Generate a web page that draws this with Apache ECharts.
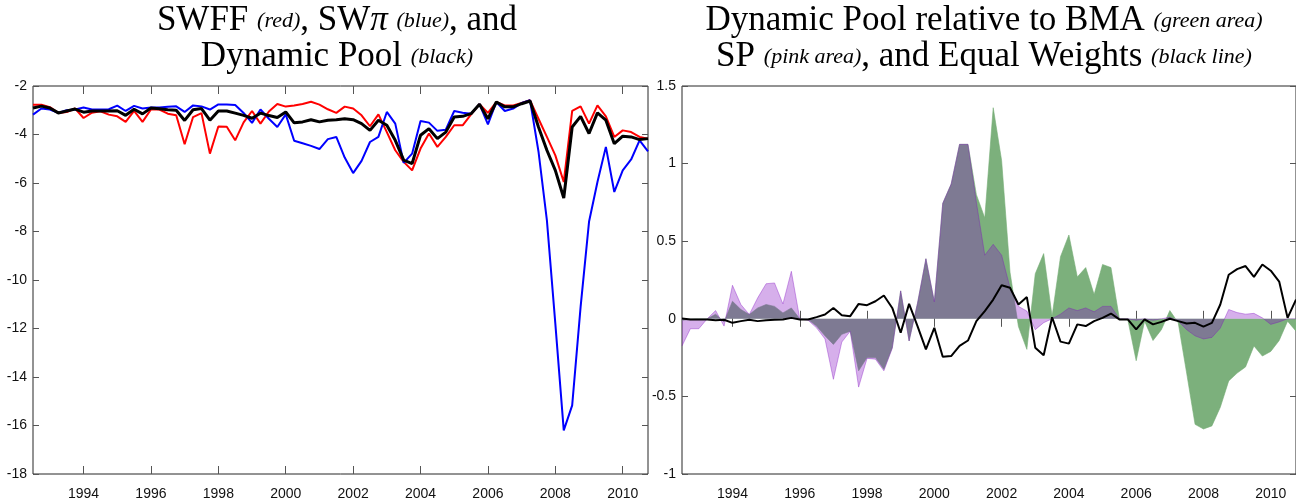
<!DOCTYPE html>
<html><head><meta charset="utf-8">
<script src="https://cdn.jsdelivr.net/npm/echarts@6/dist/echarts.min.js"></script>
<style>html,body{margin:0;padding:0;background:#fff}#c{width:1296px;height:501px}</style>
</head><body><div id="c"></div>
<script>
// quarterly dates 1992Q3 .. 2010Q4 (as decimal years)
const startYear = 1992.5;
const nQuarters = 74;
const quarters = Array.from({length: nQuarters}, (_, i) => startYear + i * 0.25);
const tickYears = [1994, 1996, 1998, 2000, 2002, 2004, 2006, 2008, 2010];

// Left panel
const swff = [-2.77,-2.77,-2.87,-3.11,-3.07,-2.93,-3.32,-3.10,-3.04,-3.18,
  -3.25,-3.48,-3.03,-3.48,-2.97,-2.97,-3.14,-3.21,-4.40,-3.28,
  -3.12,-4.79,-3.67,-3.68,-4.24,-3.50,-3.03,-3.55,-3.05,-2.74,
  -2.85,-2.80,-2.74,-2.65,-2.77,-2.96,-3.11,-2.85,-2.93,-3.21,
  -3.66,-3.17,-3.90,-4.65,-5.13,-5.48,-4.58,-3.96,-4.51,-4.10,
  -3.62,-3.62,-3.17,-2.75,-3.11,-2.66,-2.80,-2.80,-2.70,-2.59,
  -3.35,-4.10,-4.86,-5.96,-3.03,-2.84,-3.55,-2.80,-3.25,-4.10,
  -3.83,-3.90,-4.10,-4.17];
const swpi = [-3.18,-2.93,-2.97,-3.11,-3.00,-2.97,-2.89,-2.97,-2.97,-2.96,
  -2.81,-3.03,-2.82,-2.93,-2.89,-2.89,-2.86,-2.84,-3.07,-2.80,
  -2.84,-2.97,-2.76,-2.76,-2.78,-3.11,-3.52,-2.97,-3.35,-3.69,
  -3.17,-4.26,-4.36,-4.47,-4.60,-4.19,-4.10,-4.95,-5.59,-5.09,
  -4.31,-4.10,-3.07,-3.55,-5.17,-4.79,-3.44,-3.51,-3.85,-3.80,
  -3.03,-3.10,-3.14,-2.75,-3.58,-2.66,-3.03,-2.93,-2.70,-2.59,
  -4.70,-7.54,-11.80,-16.20,-15.17,-11.11,-7.60,-5.96,-4.51,-6.37,
  -5.48,-5.03,-4.24,-4.70];
const dynPool = [-2.91,-2.83,-2.91,-3.11,-3.03,-2.95,-3.08,-3.03,-3.03,-3.03,
  -3.02,-3.21,-2.96,-3.15,-2.91,-2.94,-2.98,-3.00,-3.42,-2.98,
  -2.93,-3.41,-3.03,-3.03,-3.12,-3.21,-3.33,-3.12,-3.22,-3.30,
  -3.07,-3.52,-3.48,-3.39,-3.48,-3.41,-3.39,-3.35,-3.39,-3.55,
  -3.83,-3.41,-3.62,-4.24,-5.06,-5.20,-4.03,-3.76,-4.17,-3.90,
  -3.28,-3.25,-3.14,-2.75,-3.35,-2.66,-2.86,-2.86,-2.73,-2.62,
  -3.69,-4.65,-5.48,-6.62,-3.69,-3.25,-3.96,-3.11,-3.41,-4.38,
  -4.07,-4.10,-4.21,-4.17];

// Right panel
const relBMA = [-0.01,-0.005,0,0,0.03,-0.02,0.113,0.06,0.028,0.07,
  0.092,0.08,0.038,0.07,0,-0.005,-0.047,-0.11,-0.165,-0.10,
  -0.08,-0.335,-0.25,-0.25,-0.325,-0.186,0.18,-0.143,0.10,0.387,
  0.11,0.744,0.868,1.124,1.124,0.80,0.65,1.36,1.02,0.30,
  -0.05,-0.197,0.29,0.42,0.017,0.40,0.54,0.27,0.33,0.156,
  0.35,0.33,0,-0.005,-0.27,-0.015,-0.14,-0.07,0.053,-0.026,
  -0.35,-0.68,-0.71,-0.69,-0.57,-0.40,-0.35,-0.31,-0.175,-0.24,
  -0.21,-0.14,-0.015,-0.08];
const relSP = [-0.175,-0.064,-0.064,0,0.053,-0.047,0.216,0.092,0.028,0.135,
  0.226,0.231,0.096,0.306,0,-0.01,-0.058,-0.13,-0.39,-0.15,
  -0.08,-0.44,-0.255,-0.26,-0.335,-0.19,0.18,-0.143,0.10,0.387,
  0.11,0.744,0.868,1.124,1.124,0.75,0.41,0.48,0.41,0.20,
  0.08,0.05,-0.07,-0.025,0,0.03,0.07,0.053,0.07,0.045,
  0.08,0.08,0,0,-0.01,0,-0.01,0,0.01,-0.015,
  -0.07,-0.11,-0.13,-0.12,-0.06,0.06,0.04,0.03,0.035,0.006,
  -0.036,-0.02,0,0];
const relEW = [0.002,-0.004,-0.004,-0.004,-0.01,-0.006,-0.026,-0.015,-0.006,-0.015,
  -0.01,-0.006,-0.004,0.006,-0.004,-0.004,0.011,0.028,0.07,0.023,
  0.017,0.096,0.088,0.113,0.15,0.07,-0.09,0.096,-0.047,-0.197,
  -0.058,-0.244,-0.24,-0.175,-0.14,-0.015,0.05,0.124,0.216,0.2,
  0.092,0.14,-0.186,-0.235,0.01,-0.147,-0.16,-0.036,-0.047,-0.015,
  0.006,0.034,-0.004,-0.004,-0.068,-0.004,-0.036,-0.02,0,-0.015,
  -0.03,-0.026,-0.05,-0.026,0.092,0.284,0.32,0.34,0.27,0.35,
  0.31,0.24,0.006,0.124];

const pairs = arr => arr.map((v, i) => [quarters[i], v]);

const SANS = "'Liberation Sans',Arial,sans-serif";
const SERIF = "'Liberation Serif','DejaVu Serif',serif";
const AX = '#262626';

function xAxes(grid) {
  const base = {
    type: 'value', gridIndex: grid, min: startYear, max: 2010.75,
    splitLine: {show: false}, axisLine: {show: false}
  };
  return [
    Object.assign({}, base, {
      position: 'bottom',
      axisTick: {show: true, inside: true, length: 8, customValues: tickYears, lineStyle: {color: '#555'}},
      axisLabel: {show: true, customValues: tickYears, margin: 13, color: '#111',
        fontFamily: SANS, fontSize: 14, formatter: v => String(v)}
    }),
    Object.assign({}, base, {
      position: 'top',
      axisTick: {show: true, inside: true, length: 8, customValues: tickYears, lineStyle: {color: '#555'}},
      axisLabel: {show: false}
    })
  ];
}
function yAxes(grid, min, max, interval) {
  const base = {
    type: 'value', gridIndex: grid, min: min, max: max, interval: interval,
    splitLine: {show: false}, axisLine: {show: false}
  };
  return [
    Object.assign({}, base, {
      position: 'left',
      axisTick: {show: true, inside: true, length: 6, lineStyle: {color: '#555'}},
      axisLabel: {show: true, margin: 6, color: '#111', fontFamily: SANS, fontSize: 14}
    }),
    Object.assign({}, base, {
      position: 'right',
      axisTick: {show: true, inside: true, length: 6, lineStyle: {color: '#555'}},
      axisLabel: {show: false}
    })
  ];
}

const chart = echarts.init(document.getElementById('c'), null, {renderer: 'canvas'});
const rich = {
  m: {fontFamily: SERIF, fontSize: 35, fill: '#000'},
  mi: {fontFamily: SERIF, fontSize: 35, fontStyle: 'italic', fill: '#000'},
  s: {fontFamily: SERIF, fontSize: 22, fontStyle: 'italic', fill: '#000'}
};
function titleText(x, y, text) {
  return {type: 'text', x: x, y: y, style: {text: text, rich: rich, align: 'center', verticalAlign: 'middle', fill: '#000'}};
}

chart.setOption({
  animation: false,
  backgroundColor: '#fff',
  grid: [
    {left: 33, top: 86, width: 615, height: 388, show: true, borderColor: AX, borderWidth: 1, backgroundColor: 'transparent'},
    {left: 682, top: 86, width: 616, height: 388, show: true, borderColor: AX, borderWidth: 1, backgroundColor: 'transparent'}
  ],
  xAxis: [...xAxes(0), ...xAxes(1)],
  yAxis: [...yAxes(0, -18, -2, 2), ...yAxes(1, -1, 1.5, 0.5)],
  graphic: [
    titleText(337, 21, '{m|SWFF }{s|(red)}{m|, SW}{mi|π}{m| }{s|(blue)}{m|, and}'),
    titleText(337, 57, '{m|Dynamic Pool }{s|(black)}'),
    titleText(984, 21, '{m|Dynamic Pool relative to BMA }{s|(green area)}'),
    titleText(984, 57, '{m|SP }{s|(pink area)}{m|, and Equal Weights }{s|(black line)}')
  ],
  series: [
    {type: 'line', name: 'SWFF', xAxisIndex: 0, yAxisIndex: 0, data: pairs(swff), showSymbol: false,
      lineStyle: {color: '#ff0000', width: 2}, z: 2},
    {type: 'line', name: 'SWpi', xAxisIndex: 0, yAxisIndex: 0, data: pairs(swpi), showSymbol: false,
      lineStyle: {color: '#0000ff', width: 2}, z: 3},
    {type: 'line', name: 'Dynamic Pool', xAxisIndex: 0, yAxisIndex: 0, data: pairs(dynPool), showSymbol: false,
      lineStyle: {color: '#000000', width: 3}, z: 4},
    {type: 'line', name: 'rel BMA', xAxisIndex: 2, yAxisIndex: 2, data: pairs(relBMA), showSymbol: false,
      lineStyle: {color: 'rgb(118,172,118)', width: 0.6},
      areaStyle: {color: 'rgb(124,176,124)', opacity: 1, origin: 0}, z: 2},
    {type: 'line', name: 'rel SP', xAxisIndex: 2, yAxisIndex: 2, data: pairs(relSP), showSymbol: false,
      lineStyle: {color: 'rgba(130,12,194,0.45)', width: 0.8},
      areaStyle: {color: 'rgba(130,12,194,0.33)', opacity: 1, origin: 0}, z: 3},
    {type: 'line', name: 'rel EW', xAxisIndex: 2, yAxisIndex: 2, data: pairs(relEW), showSymbol: false,
      lineStyle: {color: '#000000', width: 2}, z: 4}
  ]
});
</script></body></html>
